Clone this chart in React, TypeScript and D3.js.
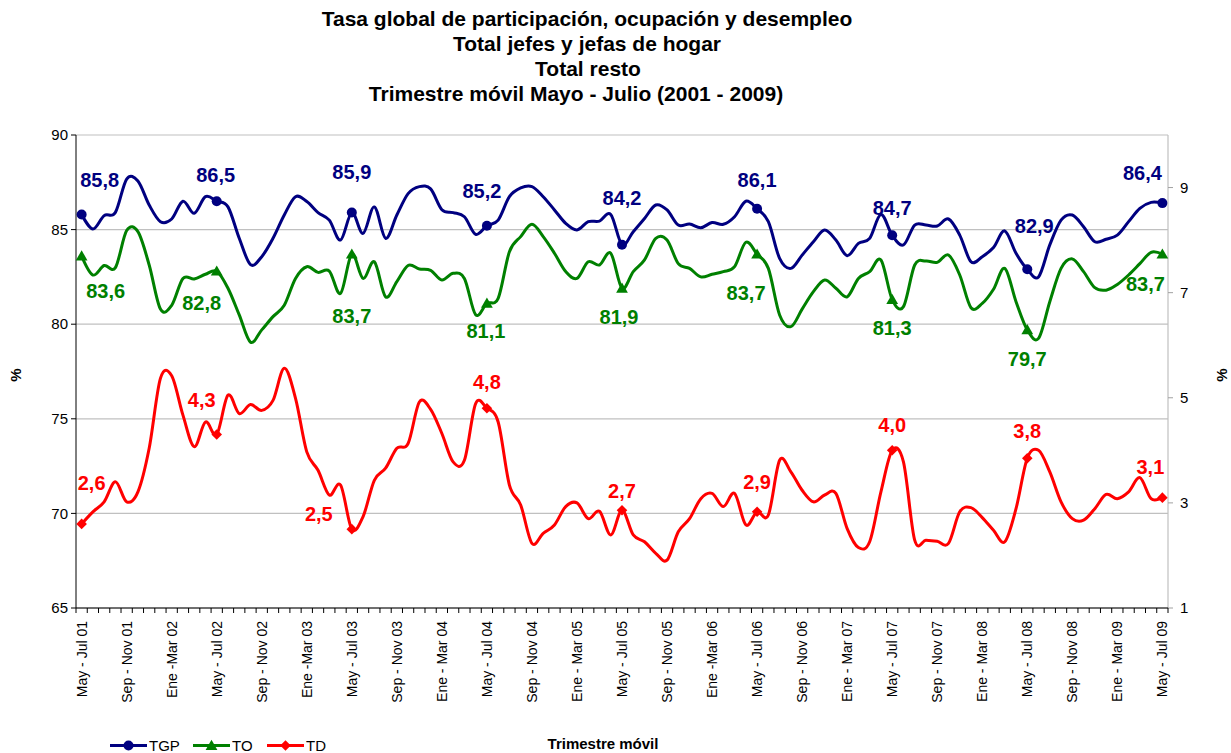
import React from 'react';
import * as d3 from 'd3';

// Tasa global de participación (TGP), left axis
const tgp = [
  85.8, 85.03, 85.74, 85.91, 87.67, 87.57, 86.3, 85.42, 85.56, 86.5, 85.86, 86.74,
  86.5, 86.2, 84.54, 83.15, 83.57, 84.54, 85.77, 86.74, 86.48, 85.9, 85.5, 84.45,
  85.9, 84.8, 86.2, 84.54, 85.77, 86.9, 87.27, 87.15, 86.05, 85.9, 85.68, 84.75,
  85.2, 85.5, 86.74, 87.2, 87.27, 86.74, 86.04, 85.33, 84.98, 85.42, 85.45, 85.8,
  84.2, 84.89, 85.59, 86.3, 86.04, 85.24, 85.3, 85.1, 85.37, 85.28, 85.68, 86.5,
  86.1, 85.42, 83.48, 82.95, 83.65, 84.36, 84.98, 84.45, 83.62, 84.27, 84.54, 85.8,
  84.7, 84.19, 85.24, 85.24, 85.19, 85.56, 84.71, 83.3, 83.57, 84.05, 84.93, 83.75,
  82.9, 82.5, 84.19, 85.5, 85.77, 85.15, 84.36, 84.49, 84.71, 85.42, 86.12, 86.44,
  86.4,
];

// Tasa de ocupación (TO), left axis
const to = [
  83.6, 82.6, 83.1, 82.99, 84.95, 84.89, 83.13, 80.8, 81.0, 82.42, 82.39, 82.64,
  82.8, 81.9, 80.49, 79.05, 79.7, 80.4, 81.0, 82.42, 83.04, 82.74, 82.81, 81.63,
  83.7, 82.42, 83.3, 81.45, 82.25, 83.1, 82.92, 82.85, 82.34, 82.69, 82.42, 80.5,
  81.1, 81.37, 83.83, 84.63, 85.28, 84.63, 83.75, 82.78, 82.42, 83.3, 83.13, 83.75,
  81.9, 82.78, 83.4, 84.54, 84.45, 83.2, 82.95, 82.5, 82.64, 82.78, 83.04, 84.33,
  83.7, 82.95, 80.49, 79.87, 80.8, 81.72, 82.34, 81.9, 81.45, 82.42, 82.78, 83.39,
  81.3, 80.93, 83.13, 83.34, 83.27, 83.66, 82.6, 80.87, 81.1, 81.85, 82.95, 81.19,
  79.7, 79.25, 81.19, 82.95, 83.45, 82.78, 81.93, 81.8, 82.1, 82.6, 83.2, 83.8,
  83.7,
];

// Tasa de desempleo (TD), right axis
const td = [
  2.6, 2.83, 3.02, 3.4, 3.02, 3.21, 4.04, 5.37, 5.42, 4.67, 4.07, 4.54,
  4.3, 5.05, 4.7, 4.87, 4.76, 4.95, 5.56, 4.99, 3.97, 3.62, 3.15, 3.34,
  2.5, 2.74, 3.43, 3.66, 4.04, 4.13, 4.92, 4.78, 4.32, 3.78, 3.81, 4.89,
  4.8, 4.54, 3.34, 2.96, 2.23, 2.42, 2.58, 2.93, 3.0, 2.7, 2.84, 2.39,
  2.86, 2.39, 2.26, 2.04, 1.91, 2.45, 2.7, 3.08, 3.18, 2.93, 3.18, 2.58,
  2.83, 2.77, 3.81, 3.59, 3.24, 3.02, 3.15, 3.18, 2.51, 2.15, 2.26, 3.21,
  4.0, 3.78, 2.29, 2.29, 2.27, 2.23, 2.83, 2.91, 2.72, 2.48, 2.26, 2.89,
  3.85, 4.0, 3.59, 3.02, 2.7, 2.67, 2.89, 3.16, 3.08, 3.21, 3.48, 3.08,
  3.1,
];

// Marked points (May - Jul of each year) and their labels
const markerIdx = [0, 12, 24, 36, 48, 60, 72, 84, 96];
const tgpLabels = ['85,8', '86,5', '85,9', '85,2', '84,2', '86,1', '84,7', '82,9', '86,4'];
const toLabels = ['83,6', '82,8', '83,7', '81,1', '81,9', '83,7', '81,3', '79,7', '83,7'];
const tdLabels = ['2,6', '4,3', '2,5', '4,8', '2,7', '2,9', '4,0', '3,8', '3,1'];

// x tick labels (every 4th moving quarter)
const tickLabels = [
  'May - Jul 01', 'Sep - Nov 01', 'Ene -Mar 02',
  'May - Jul 02', 'Sep - Nov 02', 'Ene -Mar 03',
  'May - Jul 03', 'Sep - Nov 03', 'Ene - Mar 04',
  'May - Jul 04', 'Sep - Nov 04', 'Ene - Mar 05',
  'May - Jul 05', 'Sep - Nov 05', 'Ene -Mar 06',
  'May - Jul 06', 'Sep - Nov 06', 'Ene - Mar 07',
  'May - Jul 07', 'Sep - Nov 07', 'Ene - Mar 08',
  'May - Jul 08', 'Sep - Nov 08', 'Ene - Mar 09',
  'May - Jul 09',
];
const leftTicks = [65, 70, 75, 80, 85, 90];
const rightTicks = [1, 3, 5, 7, 9];
const titleLines = [
  'Tasa global de participación, ocupación y desempleo',
  'Total jefes y jefas de hogar',
  'Total resto',
  'Trimestre móvil Mayo - Julio (2001 - 2009)',
];

// layout: label offsets (dx, dy to baseline) relative to the marker
const tgpOff = [[18, -27], [-1, -19], [0, -34], [-5, -28], [0, -40], [0, -22], [0, -20], [7, -36], [-20, -23]];
const toOff = [[24, 42], [-15, 39], [0, 69], [-1, 35], [-3, 36], [-11, 46], [0, 35], [0, 36], [-17, 37]];
const tdOff = [[10, -34], [-15, -28], [-33, -8], [0, -19], [0, -12], [0, -23], [0, -18], [0, -20], [-12, -24]];
const titleX = [587, 587, 588, 576];

const FONT = '"Liberation Sans", Arial, Helvetica, sans-serif';
const C_TGP = '#000080';
const C_TO = '#008000';
const C_TD = '#FF0000';

export default function App() {
  const W = 1231;
  const H = 753;
  const left = 76;
  const right = 1168;
  const top = 135;
  const bottom = 608;

  const idx = d3.range(tgp.length);
  const x = d3.scalePoint<number>().domain(idx).range([left, right]).padding(0.5);
  const step = x.step();
  const yL = d3.scaleLinear().domain([65, 90]).range([bottom, top]);
  const yR = d3.scaleLinear().domain([1, 10]).range([bottom, top]);
  const curve = d3.curveCardinal.tension(0);

  const lineL = d3.line<number>().x((_, i) => x(i) as number).y((d) => yL(d)).curve(curve);
  const lineR = d3.line<number>().x((_, i) => x(i) as number).y((d) => yR(d)).curve(curve);

  const tri = d3.symbol(d3.symbolTriangle, 60)() as string;
  const dia = d3.symbol(d3.symbolSquare, 56)() as string;

  const circleM = (cx: number, cy: number, key: string) => (
    <circle key={key} cx={cx} cy={cy} r={5} fill={C_TGP} />
  );
  const triM = (cx: number, cy: number, key: string) => (
    <path key={key} d={tri} transform={`translate(${cx},${cy + 1})`} fill={C_TO} />
  );
  const diaM = (cx: number, cy: number, key: string) => (
    <path key={key} d={dia} transform={`translate(${cx},${cy}) rotate(45)`} fill={C_TD} />
  );

  const bounds = d3.range(tgp.length + 1).map((k) => left + k * step);
  const shownIdx = idx.filter((i) => i % 4 === 0);

  return (
    <svg
      width={W}
      height={H}
      style={{ position: 'absolute', left: 0, top: 0, background: '#fff' }}
      fontFamily={FONT}
    >
      <rect x={0} y={0} width={W} height={H} fill="#fff" />

      {/* title */}
      <g fontWeight="bold" fontSize={21} fill="#000" textAnchor="middle">
        {titleLines.map((t, i) => (
          <text key={t} x={titleX[i]} y={26 + i * 25}>
            {t}
          </text>
        ))}
      </g>

      {/* gridlines */}
      {leftTicks.map((v) => (
        <line key={'g' + v} x1={left} x2={right} y1={yL(v)} y2={yL(v)} stroke="#C0C0C0" strokeWidth={1.2} />
      ))}
      {/* right plot border */}
      <line x1={right} x2={right} y1={top} y2={bottom} stroke="#C0C0C0" strokeWidth={1.2} />

      {/* left axis */}
      <line x1={left} x2={left} y1={top} y2={bottom} stroke="#000" strokeWidth={1} />
      {leftTicks.map((v) => (
        <g key={'l' + v}>
          <line x1={left - 5} x2={left} y1={yL(v)} y2={yL(v)} stroke="#000" />
          <text x={left - 8} y={yL(v)} dy="0.35em" textAnchor="end" fontSize={15} fill="#000">
            {v}
          </text>
        </g>
      ))}

      {/* right axis */}
      {rightTicks.map((v) => (
        <g key={'r' + v}>
          <line x1={right} x2={right + 5} y1={yR(v)} y2={yR(v)} stroke="#A0A0A0" />
          <text x={right + 12} y={yR(v)} dy="0.35em" textAnchor="start" fontSize={15} fill="#000">
            {v}
          </text>
        </g>
      ))}

      {/* bottom axis */}
      <line x1={left} x2={right} y1={bottom} y2={bottom} stroke="#000" strokeWidth={1} />
      {bounds.map((bx, k) => (
        <line key={'t' + k} x1={bx} x2={bx} y1={bottom} y2={bottom + 5} stroke="#000" />
      ))}
      {shownIdx.map((i, k) => (
        <text
          key={'x' + i}
          transform={`translate(${x(i)},${bottom + 13}) rotate(-90)`}
          dy="0.35em"
          textAnchor="end"
          fontSize={14}
          fill="#000"
        >
          {tickLabels[k]}
        </text>
      ))}

      {/* axis titles */}
      <text transform={`translate(16,375) rotate(-90)`} dy="0.35em" textAnchor="middle" fontSize={15} fontWeight="bold">
        %
      </text>
      <text transform={`translate(1222,375) rotate(-90)`} dy="0.35em" textAnchor="middle" fontSize={15} fontWeight="bold">
        %
      </text>
      <text x={603} y={749} textAnchor="middle" fontSize={15} fontWeight="bold">
        Trimestre móvil
      </text>

      {/* series lines */}
      <path d={lineL(tgp) as string} fill="none" stroke={C_TGP} strokeWidth={3} strokeLinejoin="round" />
      <path d={lineL(to) as string} fill="none" stroke={C_TO} strokeWidth={3} strokeLinejoin="round" />
      <path d={lineR(td) as string} fill="none" stroke={C_TD} strokeWidth={3} strokeLinejoin="round" />

      {/* markers */}
      {markerIdx.map((i) => circleM(x(i) as number, yL(tgp[i]), 'mc' + i))}
      {markerIdx.map((i) => triM(x(i) as number, yL(to[i]), 'mt' + i))}
      {markerIdx.map((i) => diaM(x(i) as number, yR(td[i]), 'md' + i))}

      {/* data labels */}
      <g fontSize={20} fontWeight="bold" textAnchor="middle">
        {markerIdx.map((i, k) => (
          <text key={'a' + i} x={(x(i) as number) + tgpOff[k][0]} y={yL(tgp[i]) + tgpOff[k][1]} fill={C_TGP}>
            {tgpLabels[k]}
          </text>
        ))}
        {markerIdx.map((i, k) => (
          <text key={'b' + i} x={(x(i) as number) + toOff[k][0]} y={yL(to[i]) + toOff[k][1]} fill={C_TO}>
            {toLabels[k]}
          </text>
        ))}
        {markerIdx.map((i, k) => (
          <text key={'c' + i} x={(x(i) as number) + tdOff[k][0]} y={yR(td[i]) + tdOff[k][1]} fill={C_TD}>
            {tdLabels[k]}
          </text>
        ))}
      </g>

      {/* legend */}
      {[
        { name: 'TGP', color: C_TGP, m: circleM, x0: 110 },
        { name: 'TO', color: C_TO, m: triM, x0: 193 },
        { name: 'TD', color: C_TD, m: diaM, x0: 267 },
      ].map((s) => (
        <g key={'lg' + s.name}>
          <line x1={s.x0} x2={s.x0 + 37} y1={745.5} y2={745.5} stroke={s.color} strokeWidth={3} />
          {s.m(s.x0 + 18.5, 745.5, 'lm' + s.name)}
          <text x={s.x0 + 39} y={745.5} dy="0.35em" fontSize={15} fill="#000">
            {s.name}
          </text>
        </g>
      ))}
    </svg>
  );
}
